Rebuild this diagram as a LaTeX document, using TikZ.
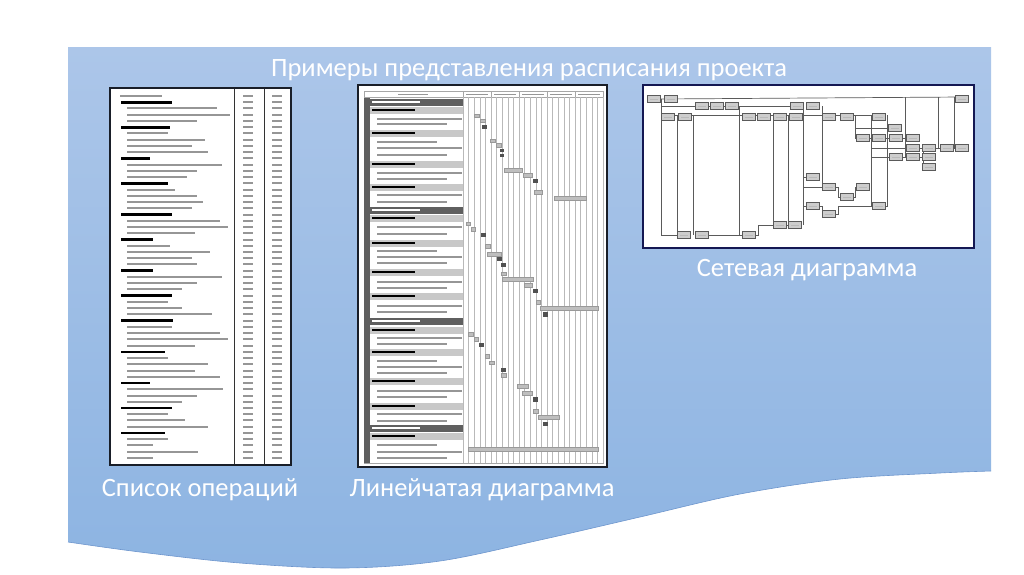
\documentclass[tikz,border=0pt]{standalone}
\usepackage{fontspec}
\setmainfont{Carlito}
\definecolor{bgtop}{RGB}{172,198,233}
\definecolor{bgbot}{RGB}{141,180,226}
\definecolor{bgedge}{RGB}{110,150,205}
\definecolor{frameC}{RGB}{25,30,40}
\definecolor{ltext}{RGB}{150,150,150}
\definecolor{gdark}{RGB}{95,95,95}
\definecolor{glight}{RGB}{200,200,200}
\definecolor{gbarL}{RGB}{190,190,190}
\definecolor{gbarD}{RGB}{80,80,80}
\definecolor{ngray}{RGB}{205,205,205}
\definecolor{nline}{RGB}{90,90,90}
\tikzset{
  lbl/.style={text=white, font=\fontsize{26.5}{31}\selectfont, anchor=base, inner sep=0},
  frm/.style={fill=white, draw=frameC, line width=2},
  barL/.style={fill=gbarL, draw=gray!80, line width=0.3},
  barD/.style={fill=gbarD},
  nbox/.style={draw=nline, fill=ngray, line width=0.6, minimum width=13, minimum height=7.5, inner sep=0},
  nl/.style={draw=nline, line width=0.7},
}
\begin{document}
\begin{tikzpicture}[x=1pt,y=-1pt]
\useasboundingbox (0,0) rectangle (1024,574);
% background shape
\shade[top color=bgtop, bottom color=bgbot] (68,47) -- (991,47) -- (991,471)
  -- plot[smooth, tension=0.55] coordinates {(991,471) (940,473) (840,479) (740,494) (640,517) (540,540) (440,561) (345,568) (240,563) (140,552) (68,542)} -- cycle;
\draw[bgedge, line width=0.6] plot[smooth, tension=0.55] coordinates {(991,471) (940,473) (840,479) (740,494) (640,517) (540,540) (440,561) (345,568) (240,563) (140,552) (68,542)};

% ---------- List of operations ----------
\draw[frm] (110,88) rectangle (291,465);
\draw[gray!40!black, line width=1] (234,89) -- (234,464);
\draw[gray!40!black, line width=1] (264,89) -- (264,464);
\foreach \i/\t/\e in {1/2/170,2/1/200,3/0/335,4/0/375,5/0/275,6/1/195,7/0/190,8/0/300,9/0/260,10/0/310,
 11/1/135,12/0/350,13/0/275,14/0/245,15/1/190,16/0/210,17/0/275,18/0/295,19/0/262,20/1/200,
 21/0/345,22/0/370,23/0/270,24/1/145,25/0/195,26/0/315,27/0/260,28/0/275,29/1/145,30/0/350,
 31/0/275,32/0/230,33/1/200,34/0/190,35/0/230,36/0/320,37/1/205,38/0/200,39/0/345,40/0/370,
 41/0/270,42/1/180,43/0/190,44/0/310,45/0/270,46/0/345,47/1/135,48/0/355,49/0/275,50/0/230,
 51/1/200,52/0/190,53/0/240,54/0/310,55/1/180,56/0/190,57/0/145,58/0/280,59/0/145}{
  \pgfmathsetmacro\yy{96+(\i-1)*6.24}
  \pgfmathsetmacro\xe{105+\e/3}
  \ifnum\t=1
    \fill[black] (121,\yy-1.3) rectangle (\xe,\yy+1.3);
  \else\ifnum\t=2
    \fill[ltext] (120,\yy-1) rectangle (\xe,\yy+1);
  \else
    \fill[ltext] (127,\yy-1) rectangle (\xe,\yy+1);
  \fi\fi
  \fill[ltext] (243,\yy-1) rectangle (253,\yy+1);
  \fill[ltext] (272,\yy-1) rectangle (282,\yy+1);
}

% ---------- Gantt chart ----------
\draw[frm] (358,85) rectangle (607,467);
\draw[gray!70, line width=0.6] (364,91) rectangle (603,463);
\draw[gray!70, line width=0.6] (364,97) -- (603,97);
\foreach \k in {0,...,25}{
  \draw[gray!55, line width=0.6] (463+\k*5.6,97) -- (463+\k*5.6,463);
}
\foreach \k in {0,...,5}{
  \draw[gray!70, line width=0.6] (463+\k*28,91) -- (463+\k*28,97);
}
\foreach \k in {0,...,4}{
  \fill[ltext] (466+\k*28,93.5) rectangle (488+\k*28,94.7);
}
\fill[ltext] (398,93.5) rectangle (428,94.7);
\fill[gdark] (364,98) rectangle (370,463);
\foreach \y in {99,207,318,425}{
  \fill[gdark] (364,\y) rectangle (463,\y+6.5);
  \fill[white] (372,\y+2.4) rectangle (420,\y+4.2);
}
\foreach \y in {107,130,161,184,215,240,269,293,327,349,378,403,433}{
  \fill[glight] (370,\y) rectangle (463,\y+6.5);
  \fill[black] (372,\y+2.3) rectangle (415,\y+4.3);
}
\foreach \y/\e in {119/462,124/447,142/437,148/462,155/447,173/462,179/447,195/462,202/447,
  227/462,234/447,251/437,257/462,263/447,282/462,288/447,306/462,312/447,338/462,344/447,
  361/437,367/462,373/447,391/462,397/447,414/462,421/447,445/437,452/462,458/447}{
  \fill[ltext] (377,\y-0.8) rectangle (\e,\y+0.8);
}
\foreach \a/\b/\c/\d in {474/114/479/117,480/119/485/122,490/139/495/142,496/143/501/147,
  504/168/522/172,523/173/532/177,534/190/542/194,554/196/586/200,466/222/470/225,471/227/475/231,
  485/244/490/248,487/252/501/256,501/272/506/275,502/277/533/281,524/283/532/287,536/300/540/304,
  540/306/598/310,468/332/473/336,474/337/478/341,485/354/489/358,489/361/494/364,501/373/506/377,
  517/384/528/388,522/391/532/395,533/409/538/413,538/415/559/419,468/447/598/451}{
  \draw[barL] (\a,\b) rectangle (\c,\d);
}
\foreach \a/\b/\c/\d in {482/125/487/129,500/149/504/152,500/154/504/157,533/179/538/183,
  481/233/486/237,497/257/502/261,501/263/506/267,533/289/538/293,543/312/548/317,
  479/343/484/347,501/368/506/372,533/397/538/402,543/422/548/426}{
  \fill[barD] (\a,\b) rectangle (\c,\d);
}

% ---------- Network diagram ----------
\draw[frm, draw=frameC!80!blue] (643,85) rectangle (974,248);
% connectors
\draw[nl] (661,99) -- (962,97);
\draw[nl] (661,99) -- (661,235) -- (684,235);
\draw[nl] (661,106) -- (797,106);
\draw[nl] (661,115) -- (879,115);
\draw[nl] (677,115) -- (677,235);
\draw[nl] (693,115) -- (693,235);
\draw[nl] (702,235) -- (749,235);
\draw[nl] (739,106) -- (739,235);
\draw[nl] (749,235) -- (758,235) -- (758,225) -- (795,225);
\draw[nl] (773,115) -- (773,225);
\draw[nl] (788,115) -- (788,225);
\draw[nl] (803,106) -- (803,225);
\draw[nl] (803,187) -- (829,187);
\draw[nl] (803,206) -- (813,206);
\draw[nl] (803,177) -- (813,177);
\draw[nl] (822,106) -- (822,187);
\draw[nl] (829,187) -- (838,187) -- (838,197) -- (847,197) -- (855,197) -- (855,187) -- (863,187);
\draw[nl] (813,206) -- (822,206) -- (822,214) -- (829,214) -- (838,214) -- (838,206) -- (879,206);
\draw[nl] (871,115) -- (871,206);
\draw[nl] (887,115) -- (887,206) -- (879,206);
\draw[nl] (855,115) -- (855,138) -- (913,138);
\draw[nl] (855,128) -- (895,128);
\draw[nl] (871,148) -- (962,148);
\draw[nl] (871,157) -- (929,157);
\draw[nl] (905,97) -- (905,157);
\draw[nl] (938,97) -- (938,148);
\draw[nl] (954,97) -- (954,148);
\draw[nl] (923,148) -- (923,167) -- (929,167);
% boxes
\foreach \n/\x/\y in {a1/654/99,a2/671/99,z1/962/99,
  b1/702/106,b2/717/106,b3/732/106,c1/797/106,c2/813/106,
  d1/668/117,d2/685/117,e1/749/117,e2/764/117,e3/780/117,e4/796/117,f1/829/117,f2/847/117,g1/879/117,
  n1/895/128,o1/863/138,o2/879/138,o3/896/138,o4/913/138,
  p1/913/148,p2/929/148,p3/947/148,p4/962/148,
  q1/896/157,q2/913/157,q3/929/157,q4/929/167,
  l1/813/177,j1/829/187,j3/863/187,j2/847/197,k1/813/206,m1/879/206,k2/829/214,
  i1/780/225,i2/795/225,h1/684/235,h2/702/235,h3/749/235}{
  \node[nbox] (\n) at (\x,\y) {};
  \fill[gray!55] (\x-4,\y-0.5) rectangle (\x+4,\y+0.5);
}

% ---------- Labels ----------
\node[lbl] (title) at (529,76) {Примеры представления расписания проекта};
\node[lbl] (lab1) at (200,496) {Список операций};
\node[lbl] (lab2) at (482,496) {Линейчатая диаграмма};
\node[lbl] (lab3) at (807,276) {Сетевая диаграмма};
\end{tikzpicture}
\end{document}
